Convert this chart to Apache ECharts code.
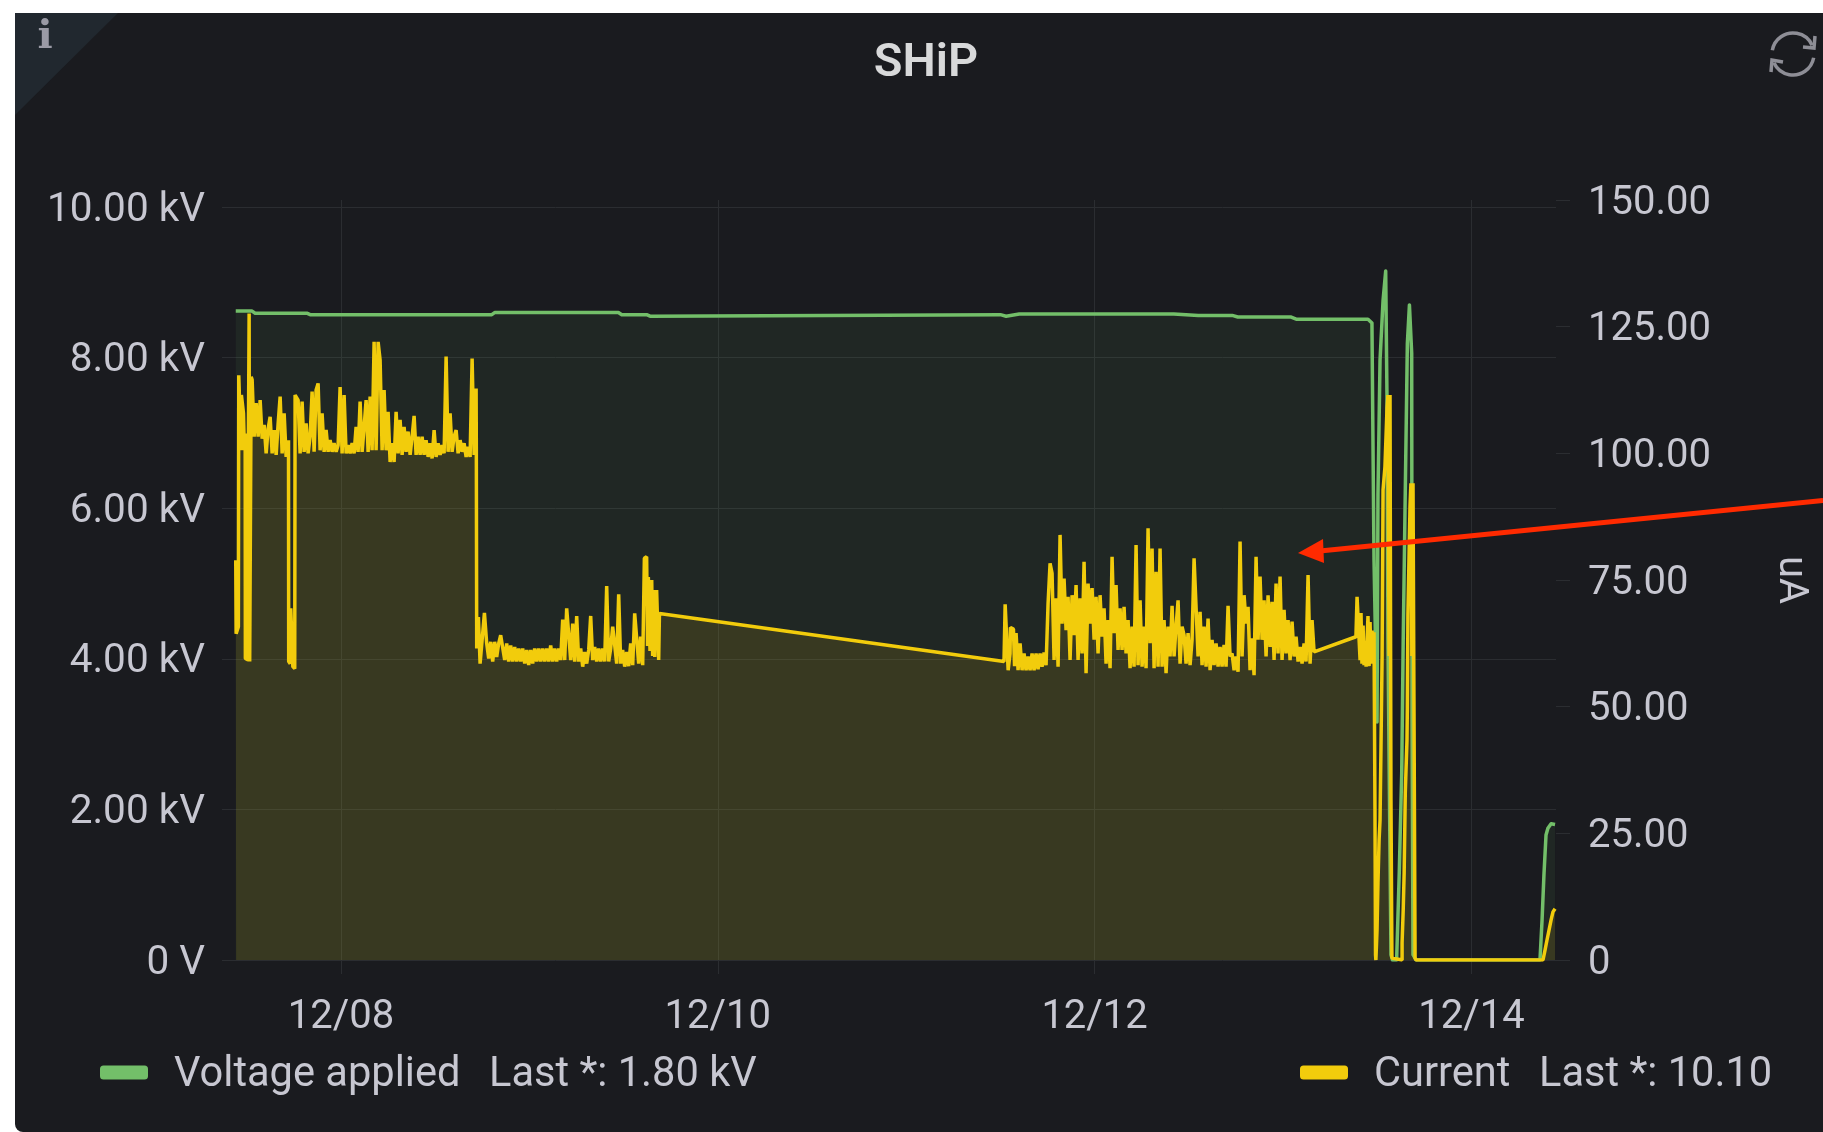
<!DOCTYPE html>
<html>
<head>
<meta charset="utf-8">
<script src="https://cdn.jsdelivr.net/npm/echarts@6/dist/echarts.min.js"></script>
<style>
html,body{margin:0;padding:0;background:#fff;width:1823px;height:1132px;overflow:hidden}
#panel{position:absolute;left:15px;top:13px;right:0;bottom:0;background:#1a1b1f;border-bottom-left-radius:8px}
#chart{position:absolute;left:0;top:0;width:1823px;height:1132px}
</style>
</head>
<body>
<div id="panel"></div>
<div id="chart"></div>
<script>
const voltageDays = [7.441,7.526,7.544,7.818,7.836,8.800,8.817,9.472,9.490,9.622,9.640,11.50,11.53,11.60,12.42,12.55,12.73,12.76,13.04,13.07,13.451,13.472,13.483,13.499,13.504,13.515,13.531,13.545,13.552,13.557,13.573,13.581,13.603,13.617,13.630,13.638,13.647,13.660,13.671,13.683,13.685,13.690,13.706,14.364,14.375,14.385,14.396,14.406,14.423,14.444];
const voltageKv = [8.62,8.62,8.59,8.59,8.57,8.57,8.60,8.60,8.57,8.57,8.55,8.57,8.55,8.58,8.58,8.56,8.56,8.54,8.54,8.51,8.51,8.46,5.31,3.16,6.18,7.97,8.76,9.15,7.44,4.25,0.07,0,0,1.16,2.48,4.25,5.88,8.19,8.70,8.06,3.19,0.07,0,0,0.53,1.13,1.66,1.75,1.81,1.80];

// Current (uA). The monitor samples regularly in the busy stretches; irregular stretches list their days.
const sampleStepDays = 0.010616;
const startDays = [7.441,7.443,7.455,7.457,7.464,7.469,7.471,7.482,7.487,7.491,7.492,7.507,7.508,7.512,7.515,7.519,7.523];
const startUa = [78.9,64.4,65.8,115.4,115.4,100.6,111.5,107.9,100.6,103.9,59.5,59.2,101.3,127.6,58.9,58.9,115.1];
const earlyFromDay = 7.528;
const earlyUa = [114.5,103.3,109.9,103.3,110.5,102.9,105.6,100,104.9,107.2,100,104.6,99.7,105.9,111.2,100,107.9,99.3];
const dipDays = [7.721,7.722,7.730,7.733,7.744,7.754,7.756,7.763];
const dipUa = [102.6,58.9,58.5,69.4,57.9,57.5,111.5,111.2];
const highFromDay = 7.772;
const highUa = [110.5,100,110.2,100.3,105.9,100,103.3,112.2,100.3,112.5,113.8,100.6,107.9,100.3,104.6,100.3,102.6,100.3,102,100.3,101.6,113.1,100,111.5,100,101.6,100,102,100,105.2,100.3,110.2,100.3,105.2,110.5,100.3,111.2,100.6,122,100.6,122,118.4,100.6,112.5,100.6,108.2,98.3,102,98.3,108.2,100,106.6,99.7,105.2,100.3,104.3,99.7,103.3,107.4,99.7,103.3,99.7,103.3,99.7,102.6,99.3,102,99,104.6,99.3,102,99.7,101.6,100,119.1,100.3,107.9,100.3,103.3,104.6,100,102.6,100.3,102,99.3,101.3,99.3,118.7,99.7,112.8];
const dropDays = [8.718,8.720,8.729,8.738,8.747,8.761,8.768];
const dropUa = [100.6,61.5,67.7,58.5,58.2,68.5,68.5];
const lowFromDay = 8.773;
const lowUa = [62.5,59.5,62.8,58.9,62.8,59.8,62.5,64.1,64.1,59.2,62.5,58.9,62.1,58.9,61.8,58.9,61.5,58.9,61.5,58.5,61.2,58.2,61.2,58.5,61.5,58.9,61.5,58.9,61.5,58.9,61.5,58.9,62.1,58.9,61.5,58.9,61.5,59.2,67.2,59.2,69.4,69.4,59.2,66.4,58.9,67.9,58.9,61.5,57.9,60.8,58.5,61.2,67.9,59.2,61.8,58.9,61.5,58.9,61.5,58.9,73.8,58.9,61.5,65.8,65.8,58.5,72.2,58.5,61.2,57.9,60.8,58,62.5,58.2,68.4,68.4,58.5,63.8,58.2];
const gapDays = [9.608,9.610,9.622,9.627,9.631,9.640,9.649,9.654,9.658,9.665,9.668,9.675,9.684,9.686,9.690,11.519,11.525,11.534,11.541,11.551,11.553,11.569,11.575];
const gapUa = [57.9,79.3,79.6,62,75.6,61,75,60,73,59.8,65.4,73,73,59.2,68.4,58.9,70.2,70.2,57.2,60.5,65.6,65.3,58];
const busyFromDay = 11.583;
const busyUa = [64.5,57.2,62.5,57.2,60.5,57.2,59.9,57.2,60.5,57.2,60.5,57.4,60.5,57.9,60.7,58.2,70.4,78.3,76.3,59.2,71.4,57.9,83.9,66.4,75.3,65.1,71.7,59.2,72,64.1,74,59.2,71.4,60.5,78.6,56.6,74.3,66.4,73.4,63.2,71.7,60.5,72,63.8,69.4,58.5,67.1,57.6,79.6,64.5,74,61.2,69.4,61.2,69.7,60.5,67.1,57.6,65.8,57.9,81.9,58.2,71,57.9,65.8,57.6,85.2,62.5,81.2,57.6,76.6,57.9,81.2,57.9,67.1,56.6,65.8,59.9,69.9,59.9,65.8,71,58.5,65.8,64.1,58.5,64.5,58.2,63.2,79.3,79.3,59.9,68.7,58.2,65.8,57.9,67.4,57.2,63.2,58.2,62.5,57.9,61.8,57.9,62.2,57.9,69.9,59.9,60.5,57.2,59.9,56.9,82.6,59.9,72,66.4,69.7,57.2,63.5,56.2,79.6,63.2,75.7,63.2,71,59.9,72,61.8,70.7,59.2,74.3,60.5,75.7,59.2,69.1,60.5,67.1,59.2,66.8,59.9,63.8,58.9,61.8,58.5,62.5,58.9,76,58.5,67.1,60.8];
const endDays = [13.387,13.393,13.403,13.409,13.414,13.419,13.425,13.430,13.435,13.441,13.446,13.451,13.457,13.462,13.467,13.473,13.478,13.483,13.488,13.491,13.493,13.499,13.504,13.510,13.515,13.520,13.526,13.531,13.541,13.552,13.557,13.563,13.568,13.573,13.578,13.632,13.632,13.638,13.643,13.649,13.658,13.660,13.663,13.674,13.679,13.684,13.690,13.695,13.701,13.706,14.380,14.391,14.401,14.412,14.423,14.433,14.444];
const endUa = [63.8,71.7,71.7,59.2,68.5,58.5,66,58.2,63,57.9,57.6,67.9,58,66.7,58.5,65,59,64.7,30,1,0,5.9,15.2,23.7,27.6,42,60.2,92.8,97.3,108.9,111.5,60,111.5,31.6,0.4,0,3.4,9.9,17.2,33,43.4,49.9,68.1,89.4,94.1,60,94.1,51.3,0.4,0,0,2,3.9,5.9,7.9,9.5,10.1];

const voltageName = 'Voltage applied';
const currentName = 'Current';
const voltageLast = 'Last *: 1.80 kV';
const currentLast = 'Last *: 10.10';

const zip = (a, b) => a.map((v, i) => [v, b[i]]);
const regular = (from, ua) => ua.map((v, i) => [from + i * sampleStepDays, v]);
const currentData = [].concat(
  zip(startDays, startUa), regular(earlyFromDay, earlyUa), zip(dipDays, dipUa),
  regular(highFromDay, highUa), zip(dropDays, dropUa), regular(lowFromDay, lowUa),
  zip(gapDays, gapUa), regular(busyFromDay, busyUa), zip(endDays, endUa));

const FONT = 'Roboto';
const TXT = '#c7c7d1';
const GRID = '#2b2d31';
const GREEN = '#73bf69';
const YELLOW = '#f2cc0c';
const ICON = '#8e8e96';

const chart = echarts.init(document.getElementById('chart'), null, {renderer:'canvas', width:1823, height:1132});
const xHidden = {type:'value', min:7.368, max:14.449, show:false};
chart.setOption({
  animation:false,
  backgroundColor:'transparent',
  textStyle:{fontFamily:FONT},
  title:{text:'SHiP', left:921, top:36, textAlign:'center',
    textStyle:{color:'#d8d9da', fontFamily:FONT, fontSize:47, fontWeight:600}},
  grid:[
    {left:222, width:1334, top:207, height:753, outerBoundsMode:'none'},
    {left:222, width:1334, top:200, height:760, outerBoundsMode:'none'},
    {left:-35.8, width:1884, top:200, height:760, outerBoundsMode:'none'}
  ],
  xAxis:[
    {...xHidden, gridIndex:0},
    {...xHidden, gridIndex:1},
    {type:'value', gridIndex:2, min:6, max:16, interval:2,
      axisLine:{show:false},
      axisTick:{show:true, length:14, lineStyle:{color:GRID}},
      splitLine:{show:true, showMinLine:false, showMaxLine:false, lineStyle:{color:GRID, width:1}},
      axisLabel:{showMinLabel:false, showMaxLabel:false, margin:38, color:TXT, fontFamily:FONT, fontSize:40,
        formatter:v=>'12/'+String(v).padStart(2,'0')}}
  ],
  yAxis:[
    {type:'value', gridIndex:0, min:0, max:10, interval:2, position:'left',
      axisLine:{show:false}, axisTick:{show:false},
      splitLine:{show:true, lineStyle:{color:GRID, width:1}},
      axisLabel:{margin:17, color:TXT, fontFamily:FONT, fontSize:40.5, verticalAlign:'top', lineHeight:7,
        formatter:v=>v===0?'0 V':v.toFixed(2)+' kV'}},
    {type:'value', gridIndex:1, min:0, max:150, interval:25, position:'right',
      name:'uA', nameLocation:'middle', nameRotate:-90, nameGap:214,
      nameTextStyle:{color:TXT, fontFamily:FONT, fontSize:40},
      axisLine:{show:false},
      axisTick:{show:true, length:14, lineStyle:{color:GRID, width:1}},
      splitLine:{show:false},
      axisLabel:{margin:32, color:TXT, fontFamily:FONT, fontSize:40, verticalAlign:'top', lineHeight:7,
        formatter:v=>v===0?'0':v.toFixed(2)}},
    {type:'value', gridIndex:2, min:0, max:1, show:false}
  ],
  legend:[
    {data:[voltageName], left:95, top:1050, icon:'roundRect', itemWidth:48, itemHeight:14, selectedMode:false,
      formatter:n=>`{a|${n}}{b|${voltageLast}}`,
      textStyle:{color:TXT, fontFamily:FONT, fontSize:41.6, rich:{
        a:{width:315, padding:[7,0,0,21], color:TXT, fontFamily:FONT, fontSize:41.6},
        b:{padding:[7,0,0,0], color:TXT, fontFamily:FONT, fontSize:41.6}}}},
    {data:[currentName], left:1295, top:1050, icon:'roundRect', itemWidth:48, itemHeight:14, selectedMode:false,
      formatter:n=>`{a|${n}}{b|${currentLast}}`,
      textStyle:{color:TXT, fontFamily:FONT, fontSize:41.6, rich:{
        a:{width:165, padding:[7,0,0,21], color:TXT, fontFamily:FONT, fontSize:41.6},
        b:{padding:[7,0,0,0], color:TXT, fontFamily:FONT, fontSize:41.6}}}}
  ],
  series:[
    {name:voltageName, type:'line', xAxisIndex:0, yAxisIndex:0, data:zip(voltageDays, voltageKv),
      showSymbol:false, symbol:'none', smooth:false, z:3,
      itemStyle:{color:GREEN}, lineStyle:{color:GREEN, width:3.5, join:'round'},
      areaStyle:{color:GREEN, opacity:0.08}},
    {name:currentName, type:'line', xAxisIndex:1, yAxisIndex:1, data:currentData,
      showSymbol:false, symbol:'none', smooth:false, z:4,
      itemStyle:{color:YELLOW}, lineStyle:{color:YELLOW, width:3.5, join:'bevel'},
      areaStyle:{color:YELLOW, opacity:0.11}}
  ],
  graphic:[
    {type:'polygon', silent:true, shape:{points:[[15,13],[118,13],[15,115]]}, style:{fill:'#21282f'}, z:1},
    {type:'text', silent:true, x:45, y:38, z:10, style:{text:'i', x:0, y:0, align:'center', verticalAlign:'middle',
      fill:'#9a9aa5', font:'bold 40px "DejaVu Serif"'}},
    {type:'arc', silent:true, z:10, shape:{cx:1793, cy:54, r:21, startAngle:3.32, endAngle:5.85, clockwise:true},
      style:{fill:'none', stroke:ICON, lineWidth:3.5}},
    {type:'arc', silent:true, z:10, shape:{cx:1793, cy:54, r:21, startAngle:0.18, endAngle:2.71, clockwise:true},
      style:{fill:'none', stroke:ICON, lineWidth:3.5}},
    {type:'polyline', silent:true, z:10, shape:{points:[[1815,36],[1814,48],[1803,47]]}, style:{fill:'none', stroke:ICON, lineWidth:3.5}},
    {type:'polyline', silent:true, z:10, shape:{points:[[1771,72],[1772,60],[1783,62]]}, style:{fill:'none', stroke:ICON, lineWidth:3.5}},
    {type:'line', silent:true, z:20, shape:{x1:1823, y1:500.5, x2:1320, y2:551}, style:{stroke:'#ff2a00', lineWidth:5}},
    {type:'polygon', silent:true, z:20, shape:{points:[[1298,553],[1323,539],[1324,563]]}, style:{fill:'#ff2a00'}}
  ]
});
</script>
</body>
</html>
